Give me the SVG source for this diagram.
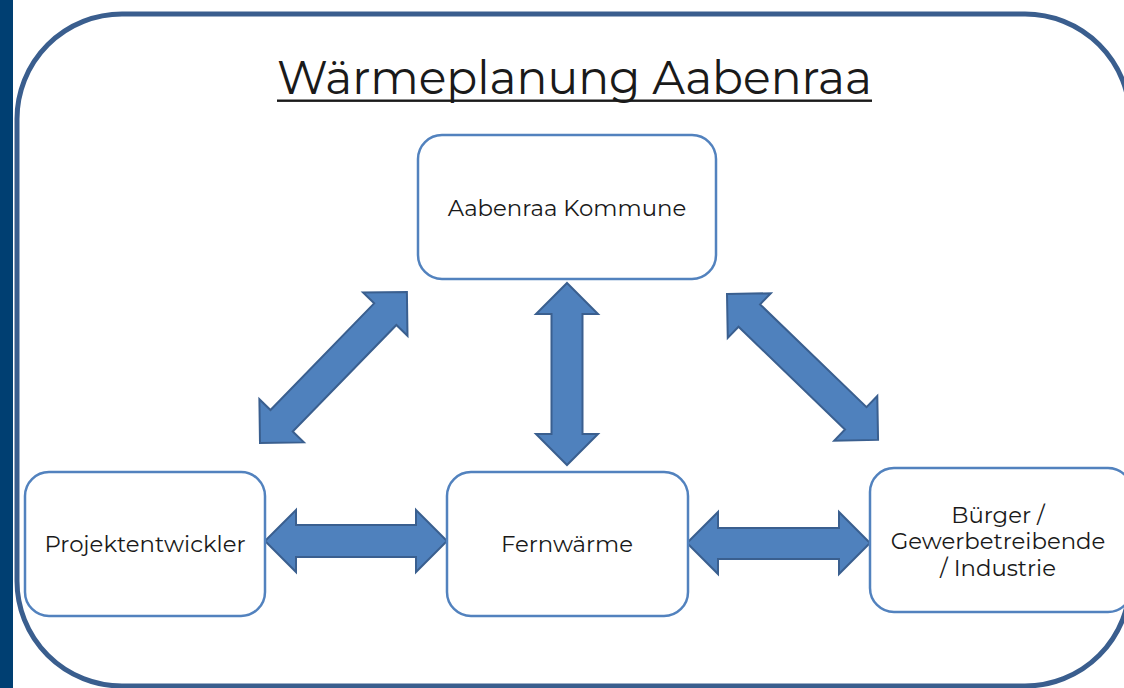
<svg xmlns="http://www.w3.org/2000/svg" width="1124" height="688" viewBox="0 0 1124 688">
<style>
.frame{fill:#ffffff;stroke:#3a5e8e;stroke-width:5}
.node{fill:#ffffff;stroke:#5282be;stroke-width:2.5}
.arrow{fill:#4f81bd;stroke:#3a5f8f;stroke-width:2;stroke-linejoin:miter}
.lbl{font-family:"Montserrat","DejaVu Sans","Noto Sans",sans-serif;font-size:22.8px;fill:#1a1a1a;text-anchor:middle}
.title{font-family:"Montserrat","DejaVu Sans","Noto Sans",sans-serif;font-size:46px;fill:#1a1a1a}
</style>
<rect x="0" y="0" width="1124" height="688" fill="#ffffff"/>
<rect x="0" y="0" width="13" height="688" fill="#003f72"/>
<rect class="frame" x="17" y="14" width="1113" height="672" rx="105" ry="105"/>
<g id="title">
<text class="title" x="277" y="94" textLength="595" lengthAdjust="spacingAndGlyphs">Wärmeplanung Aabenraa</text>
<rect x="277" y="99.5" width="595" height="2.4" fill="#1a1a1a"/>
</g>
<g id="connectors">
<path class="arrow" transform="translate(260,443) rotate(-45.8)" d="M0,0 L31,-31 L31,-15.5 L179.7,-15.5 L179.7,-31 L210.7,0 L179.7,31 L179.7,15.5 L31,15.5 L31,31 Z"/>
<path class="arrow" transform="translate(727,294) rotate(44)" d="M0,0 L31,-31 L31,-15.5 L179,-15.5 L179,-31 L210,0 L179,31 L179,15.5 L31,15.5 L31,31 Z"/>
<path class="arrow" d="M567,283 L598,314 L582.5,314 L582.5,434 L598,434 L567,465 L536,434 L551.5,434 L551.5,314 L536,314 Z"/>
<path class="arrow" d="M265,541 L296,510 L296,525 L416,525 L416,510 L447,541 L416,572 L416,557 L296,557 L296,572 Z"/>
<path class="arrow" d="M687,543 L718,512 L718,528 L839,528 L839,512 L870,543 L839,574 L839,559 L718,559 L718,574 Z"/>
</g>
<g id="node-kommune">
<rect class="node" x="418" y="135" width="298" height="144" rx="24"/>
<text class="lbl" x="567" y="216">Aabenraa Kommune</text>
</g>
<g id="node-projekt">
<rect class="node" x="25" y="472" width="240" height="144" rx="24"/>
<text class="lbl" x="145" y="552">Projektentwickler</text>
</g>
<g id="node-fernwaerme">
<rect class="node" x="447" y="472" width="241" height="144" rx="24"/>
<text class="lbl" x="567" y="552">Fernwärme</text>
</g>
<g id="node-buerger">
<rect class="node" x="870" y="468" width="262" height="144" rx="24"/>
<text class="lbl" x="998" y="523">Bürger /</text>
<text class="lbl" x="998" y="549">Gewerbetreibende</text>
<text class="lbl" x="998" y="576">/ Industrie</text>
</g>
</svg>
